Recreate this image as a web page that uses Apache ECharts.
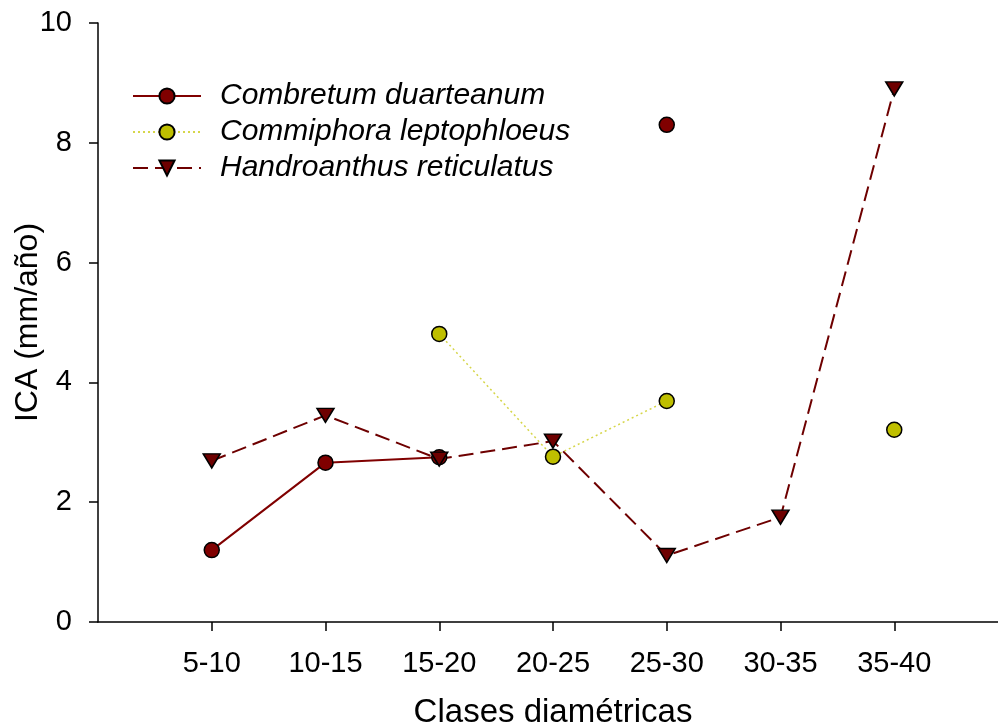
<!DOCTYPE html>
<html>
<head>
<meta charset="utf-8">
<script src="https://cdn.jsdelivr.net/npm/echarts@6/dist/echarts.min.js"></script>
<style>html,body{margin:0;padding:0;background:#fff}#c{width:998px;height:727px}</style>
</head>
<body>
<div id="c"></div>
<script>
const categories = ['5-10','10-15','15-20','20-25','25-30','30-35','35-40'];
const combretum = [1.20, 2.66, 2.75, null, 8.30, null, null];
const commiphora = [null, null, 4.81, 2.76, 3.69, null, 3.21];
const handroanthus = [2.69, 3.45, 2.72, 3.02, 1.11, 1.75, 8.90];
const yTicks = [0, 2, 4, 6, 8, 10];

const FONT = 'Arial, "Liberation Sans", sans-serif';
const pos = categories.map((c, i) => i + 1);
function toPairs(arr) { return arr.map((v, i) => [i + 1, v == null ? '-' : v]); }

const chart = echarts.init(document.getElementById('c'), null, {renderer: 'canvas'});
chart.setOption({
  animation: false,
  backgroundColor: '#fff',
  grid: {left: 98, right: -10, top: 23, bottom: 105, containLabel: false, outerBoundsMode: 'none'},
  legend: {
    orient: 'vertical', left: 127, top: 76,
    itemWidth: 68, itemHeight: 19, itemGap: 6,
    textStyle: {fontFamily: FONT, fontSize: 30, fontStyle: 'italic', color: '#000', lineHeight: 30, padding: [0, 0, 0, 14]},
    data: ['Combretum duarteanum', 'Commiphora leptophloeus', 'Handroanthus reticulatus']
  },
  xAxis: {
    type: 'value', min: 0, max: 8, interval: 1,
    name: 'Clases diamétricas', nameLocation: 'middle', nameGap: 74, nameMoveOverlap: false,
    nameTextStyle: {fontFamily: FONT, fontSize: 33, color: '#000'},
    axisLine: {show: true, lineStyle: {color: '#000', width: 1.5}},
    axisTick: {show: true, length: 9, inside: false, customValues: pos, lineStyle: {color: '#000', width: 1.5}},
    axisLabel: {customValues: pos, margin: 27, fontFamily: FONT, fontSize: 29, color: '#000',
      formatter: v => categories[Math.round(v) - 1] || ''},
    splitLine: {show: false}
  },
  yAxis: {
    type: 'value', min: 0, max: 10, interval: 2,
    name: 'ICA (mm/año)', nameLocation: 'middle', nameGap: 54, nameMoveOverlap: false,
    nameTextStyle: {fontFamily: FONT, fontSize: 32, color: '#000'},
    axisLine: {show: true, lineStyle: {color: '#000', width: 1.5}},
    axisTick: {show: true, length: 9, inside: false, customValues: yTicks, lineStyle: {color: '#000', width: 1.5}},
    axisLabel: {customValues: yTicks, margin: 26, fontFamily: FONT, fontSize: 29, color: '#000'},
    splitLine: {show: false}
  },
  series: [
    {
      name: 'Combretum duarteanum', type: 'line', data: toPairs(combretum),
      symbol: 'circle', symbolSize: 15, connectNulls: false,
      lineStyle: {color: '#800000', width: 2, type: 'solid'},
      itemStyle: {color: '#800000', borderColor: '#000', borderWidth: 1.5}
    },
    {
      name: 'Commiphora leptophloeus', type: 'line', data: toPairs(commiphora),
      symbol: 'circle', symbolSize: 15, connectNulls: false,
      lineStyle: {color: '#d6d64a', width: 1.5, type: [2, 3]},
      itemStyle: {color: '#bfbf00', borderColor: '#000', borderWidth: 1.5}
    },
    {
      name: 'Handroanthus reticulatus', type: 'line', data: toPairs(handroanthus),
      symbol: 'triangle', symbolSize: [17, 14], symbolRotate: 180, connectNulls: false,
      lineStyle: {color: '#6e0000', width: 2, type: [15, 7]},
      itemStyle: {color: '#6e0000', borderColor: '#000', borderWidth: 1.5}
    }
  ]
});
</script>
</body>
</html>
